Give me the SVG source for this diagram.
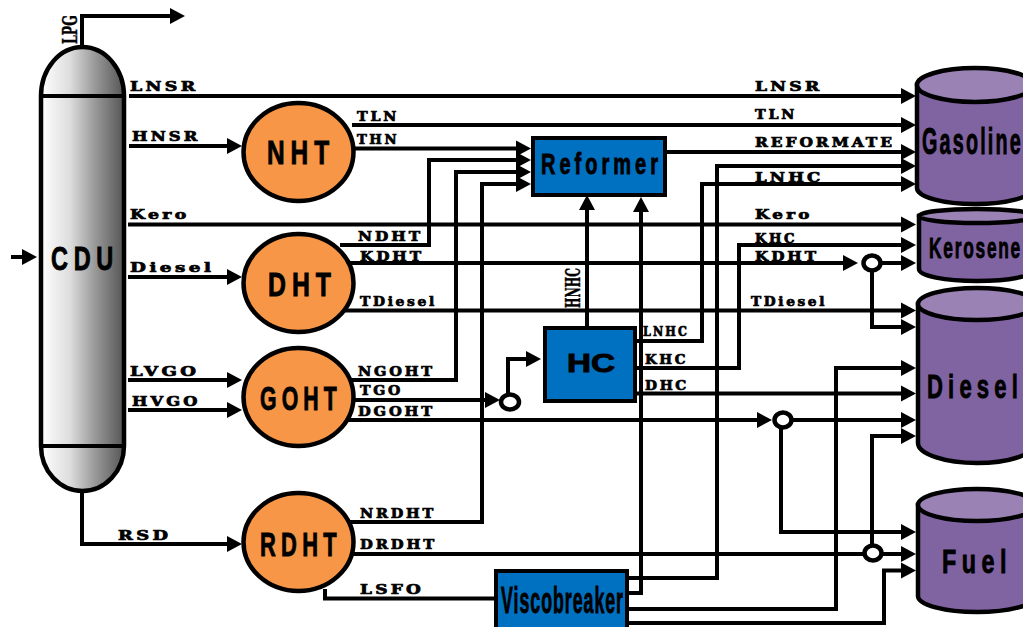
<svg xmlns="http://www.w3.org/2000/svg" width="1023" height="627" viewBox="0 0 1023 627">
<style>
.c{fill:none;stroke:#000;stroke-width:4;stroke-linejoin:miter;marker-end:url(#a)}
.n{fill:none;stroke:#000;stroke-width:4}
.o{fill:#f79646;stroke:#000;stroke-width:4.500}
.b{fill:#0070c0;stroke:#000;stroke-width:4}
.t{fill:#8064a2;stroke:#000;stroke-width:4.500}
.u{fill:#9b82b5;stroke:#000;stroke-width:4.500}
.j{fill:#fff;stroke:#000;stroke-width:4.500}
.l{font-family:"DejaVu Serif",serif;font-weight:bold;font-size:13px;fill:#000;stroke:#000;stroke-width:.7;letter-spacing:2.500px}
.r{font-family:"DejaVu Serif",serif;font-weight:bold;font-size:21px;fill:#000;stroke:#000;stroke-width:.4}
.h{font-family:"Liberation Sans",Arial,sans-serif;font-weight:bold;fill:#000;stroke:#000;stroke-width:.9}
</style>
<defs>
<linearGradient id="g" x1="0" x2="1" y1="0" y2="0"><stop offset="0" stop-color="#fff"/><stop offset=".35" stop-color="#ddd"/><stop offset=".65" stop-color="#999"/><stop offset="1" stop-color="#555"/></linearGradient>
<marker id="a" markerUnits="userSpaceOnUse" markerWidth="17" markerHeight="18" refX="5" refY="8.500" orient="auto"><path d="M0 .5L15 8.500L0 16.500z" fill="#000"/></marker>
</defs>
<g id="connectors">
<path class="c" d="M82 46V16H175"/>
<path class="c" d="M11 257H27"/>
<path class="c" d="M129 96H906"/>
<path class="c" d="M129 146H232"/>
<path class="c" d="M352 125H906"/>
<path class="c" d="M352 148.500H521"/>
<path class="c" d="M340 245H429V160H521"/>
<path class="c" d="M350 263H848"/>
<path class="c" d="M872 263H906"/>
<path class="c" d="M872 263V327H906"/>
<path class="c" d="M128 224.500H906"/>
<path class="c" d="M128 277H232"/>
<path class="c" d="M345 310.500H906"/>
<path class="c" d="M350 380H456V172H521"/>
<path class="c" d="M350 522H482V184H521"/>
<path class="c" d="M350 400H490"/>
<path class="c" d="M508 402V359H531"/>
<path class="c" d="M587 327V205"/>
<path class="c" d="M627 593H641V207"/>
<path class="c" d="M627 578H717V166H906"/>
<path class="c" d="M627 609H836V368H906"/>
<path class="c" d="M627 623H884V570.500H906"/>
<path class="c" d="M666 152H906"/>
<path class="c" d="M636 341H702V184H906"/>
<path class="c" d="M636 368H739V245H906"/>
<path class="c" d="M636 393.500H906"/>
<path class="c" d="M345 420H762"/>
<path class="c" d="M783 420H906"/>
<path class="c" d="M781 420V532H906"/>
<path class="c" d="M352 554H906"/>
<path class="c" d="M872 553V436H906"/>
<path class="c" d="M82 491V544H232"/>
<path class="c" d="M128 380H232"/>
<path class="c" d="M128 410H232"/>
<path class="n" d="M325 589V598.500H496"/>
</g>
<g id="CDU">
<path d="M41 96A41.500 49 0 0 1 124 96V446A41.500 45 0 0 1 41 446Z" fill="url(#g)" stroke="#000" stroke-width="4.500"/>
<path class="n" d="M41 96H124M41 446H124"/>
<text class="h" x="51" y="270" font-size="33" textLength="68" lengthAdjust="spacingAndGlyphs" letter-spacing="8">CDU</text>
</g>
<g id="NHT"><ellipse class="o" cx="298.500" cy="152" rx="55" ry="49"/><text class="h" x="267" y="164" font-size="33" textLength="68" lengthAdjust="spacingAndGlyphs" letter-spacing="8">NHT</text></g>
<g id="DHT"><ellipse class="o" cx="298.500" cy="283" rx="55" ry="49"/><text class="h" x="268" y="296" font-size="33" textLength="69" lengthAdjust="spacingAndGlyphs" letter-spacing="8">DHT</text></g>
<g id="GOHT"><ellipse class="o" cx="298.500" cy="397" rx="55" ry="49"/><text class="h" x="260" y="410" font-size="33" textLength="82" lengthAdjust="spacingAndGlyphs" letter-spacing="8">GOHT</text></g>
<g id="RDHT"><ellipse class="o" cx="298.500" cy="542" rx="55" ry="49"/><text class="h" x="260" y="555.500" font-size="33" textLength="82" lengthAdjust="spacingAndGlyphs" letter-spacing="8">RDHT</text></g>
<g id="Reformer"><rect class="b" x="533" y="138" width="132" height="57"/><text class="h" x="541" y="174" font-size="30" textLength="121" lengthAdjust="spacingAndGlyphs" letter-spacing="6">Reformer</text></g>
<g id="HC"><rect class="b" x="545" y="328" width="90" height="73"/><text class="h" x="567" y="372" font-size="25" textLength="48" lengthAdjust="spacingAndGlyphs">HC</text></g>
<g id="Viscobreaker"><rect class="b" x="496" y="571" width="131" height="62"/><text class="h" x="501" y="613" font-size="37" textLength="123" lengthAdjust="spacingAndGlyphs" letter-spacing="2">Viscobreaker</text></g>
<g id="Gasoline"><path class="t" d="M917 85V188C917 197 943 204 975 204S1033 197 1033 188V85Z"/><ellipse class="u" cx="975" cy="85" rx="58" ry="17"/><text class="h" x="922" y="154" font-size="36" textLength="101" lengthAdjust="spacingAndGlyphs" letter-spacing="4">Gasoline</text></g>
<g id="Kerosene"><path class="t" d="M919 216V269C919 276 945 281 977 281S1035 276 1035 269V216Z"/><ellipse class="u" cx="977" cy="216" rx="58" ry="7"/><text class="h" x="929" y="258" font-size="30" textLength="93" lengthAdjust="spacingAndGlyphs" letter-spacing="3">Kerosene</text></g>
<g id="Diesel"><path class="t" d="M918 304V443C918 454 945 463 977 463S1036 454 1036 443V304Z"/><ellipse class="u" cx="977" cy="304" rx="59" ry="16"/><text class="h" x="927" y="398" font-size="34" textLength="96" lengthAdjust="spacingAndGlyphs" letter-spacing="8">Diesel</text></g>
<g id="Fuel"><path class="t" d="M918 505V596C918 605 945 612 977 612S1036 605 1036 596V505Z"/><ellipse class="u" cx="977" cy="505" rx="59" ry="16"/><text class="h" x="942" y="573" font-size="34" textLength="70" lengthAdjust="spacingAndGlyphs" letter-spacing="8">Fuel</text></g>
<g id="junctions">
<ellipse class="j" cx="872" cy="263" rx="8.500" ry="7.500"/>
<ellipse class="j" cx="510" cy="402" rx="9" ry="7.500"/>
<ellipse class="j" cx="783" cy="420" rx="8.500" ry="7.500"/>
<ellipse class="j" cx="873" cy="553" rx="8.500" ry="7.500"/>
</g>
<g id="labels">
<text class="l" x="130" y="91" textLength="68.500" lengthAdjust="spacingAndGlyphs">LNSR</text>
<text class="l" x="132" y="141" textLength="68.500" lengthAdjust="spacingAndGlyphs">HNSR</text>
<text class="l" x="130" y="219" textLength="59.500" lengthAdjust="spacingAndGlyphs">Kero</text>
<text class="l" x="130" y="272" textLength="84.500" lengthAdjust="spacingAndGlyphs">Diesel</text>
<text class="l" x="130" y="376" textLength="69.500" lengthAdjust="spacingAndGlyphs">LVGO</text>
<text class="l" x="132" y="406" textLength="68.500" lengthAdjust="spacingAndGlyphs">HVGO</text>
<text class="l" x="118" y="540" textLength="53.500" lengthAdjust="spacingAndGlyphs">RSD</text>
<text class="l" x="357" y="121" textLength="42" lengthAdjust="spacingAndGlyphs">TLN</text>
<text class="l" x="357" y="144" textLength="42" lengthAdjust="spacingAndGlyphs">THN</text>
<text class="l" x="358" y="241" textLength="65" lengthAdjust="spacingAndGlyphs">NDHT</text>
<text class="l" x="360" y="261" textLength="64" lengthAdjust="spacingAndGlyphs">KDHT</text>
<text class="l" x="360" y="306" textLength="77" lengthAdjust="spacingAndGlyphs">TDiesel</text>
<text class="l" x="358" y="376" textLength="77" lengthAdjust="spacingAndGlyphs">NGOHT</text>
<text class="l" x="360" y="395" textLength="43" lengthAdjust="spacingAndGlyphs">TGO</text>
<text class="l" x="358" y="416" textLength="77" lengthAdjust="spacingAndGlyphs">DGOHT</text>
<text class="l" x="360" y="518" textLength="76" lengthAdjust="spacingAndGlyphs">NRDHT</text>
<text class="l" x="360" y="549" textLength="77" lengthAdjust="spacingAndGlyphs">DRDHT</text>
<text class="l" x="360" y="594" textLength="64" lengthAdjust="spacingAndGlyphs">LSFO</text>
<text class="l" x="643" y="336" textLength="46" lengthAdjust="spacingAndGlyphs">LNHC</text>
<text class="l" x="645" y="364" textLength="43" lengthAdjust="spacingAndGlyphs">KHC</text>
<text class="l" x="645" y="390" textLength="44" lengthAdjust="spacingAndGlyphs">DHC</text>
<text class="l" x="755" y="91" textLength="67.500" lengthAdjust="spacingAndGlyphs">LNSR</text>
<text class="l" x="755" y="119" textLength="42" lengthAdjust="spacingAndGlyphs">TLN</text>
<text class="l" x="755" y="147" textLength="140" lengthAdjust="spacingAndGlyphs">REFORMATE</text>
<text class="l" x="755" y="182" textLength="68.500" lengthAdjust="spacingAndGlyphs">LNHC</text>
<text class="l" x="755" y="219" textLength="57.500" lengthAdjust="spacingAndGlyphs">Kero</text>
<text class="l" x="755" y="243" textLength="42" lengthAdjust="spacingAndGlyphs">KHC</text>
<text class="l" x="755" y="261" textLength="64" lengthAdjust="spacingAndGlyphs">KDHT</text>
<text class="l" x="751" y="306" textLength="76" lengthAdjust="spacingAndGlyphs">TDiesel</text>
<text class="r" transform="translate(77 44) rotate(-90)" textLength="29" lengthAdjust="spacingAndGlyphs">LPG</text>
<text class="r" transform="translate(580 308) rotate(-90)" textLength="40" lengthAdjust="spacingAndGlyphs">HNHC</text>
</g>
</svg>
